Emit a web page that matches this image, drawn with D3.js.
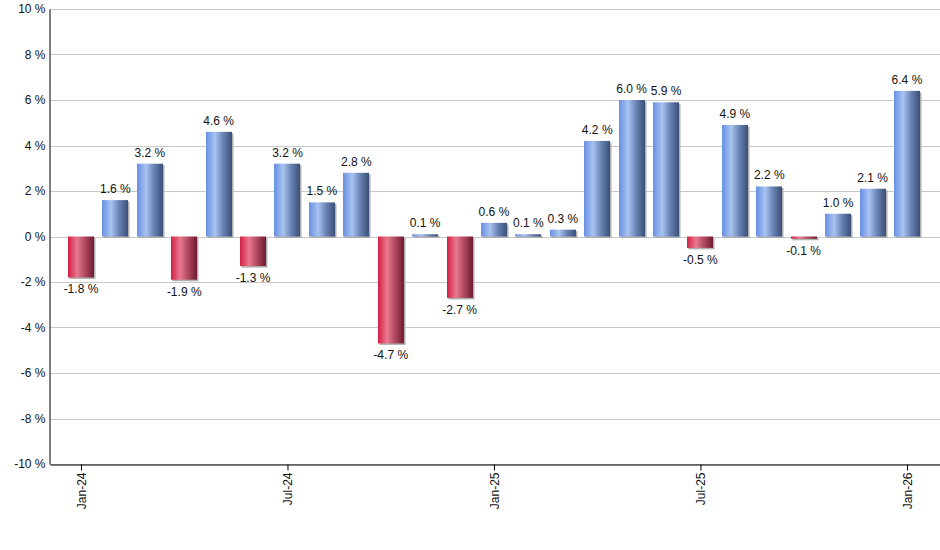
<!DOCTYPE html>
<html>
<head>
<meta charset="utf-8">
<script src="https://cdn.jsdelivr.net/npm/d3@7"></script>
<style>
  body { margin: 0; background: #fff; }
  text { font-family: "Liberation Sans", Arial, sans-serif; }
</style>
</head>
<body>
<svg id="chart" width="940" height="550"></svg>
<script>
// mois de Jan-24 à Jan-26
const months = ["Jan-24","Feb-24","Mar-24","Apr-24","May-24","Jun-24","Jul-24","Aug-24","Sep-24","Oct-24","Nov-24","Dec-24",
                "Jan-25","Feb-25","Mar-25","Apr-25","May-25","Jun-25","Jul-25","Aug-25","Sep-25","Oct-25","Nov-25","Dec-25","Jan-26"];
const values = [-1.8, 1.6, 3.2, -1.9, 4.6, -1.3, 3.2, 1.5, 2.8, -4.7, 0.1, -2.7,
                0.6, 0.1, 0.3, 4.2, 6.0, 5.9, -0.5, 4.9, 2.2, -0.1, 1.0, 2.1, 6.4];
const tickMonths = ["Jan-24", "Jul-24", "Jan-25", "Jul-25", "Jan-26"];
const yTicks = [-10, -8, -6, -4, -2, 0, 2, 4, 6, 8, 10];

const svg = d3.select('#chart');
const margin = { left: 50, right: 940, top: 9, bottom: 464 };

const x = d3.scaleLinear().domain([-0.9, 24.96]).range([margin.left, margin.right]);
const y = d3.scaleLinear().domain([-10, 10]).range([margin.bottom, margin.top]);
const barW = 26;

// dégradés
const defs = svg.append('defs');
function grad(id, stops) {
    defs.append('linearGradient')
        .attr('id', id)
        .attr('x1', '0%').attr('x2', '100%').attr('y1', '0%').attr('y2', '0%')
        .selectAll('stop')
        .data(stops)
        .enter().append('stop')
        .attr('offset', d => d[0])
        .attr('stop-color', d => d[1]);
}
grad('blue', [["0%", "#6790e2"], ["35%", "#a9c3f2"], ["65%", "#6a84b4"], ["100%", "#3a4f78"]]);
grad('red', [["0%", "#d41f45"], ["35%", "#e8798f"], ["65%", "#b04a60"], ["100%", "#6e1a30"]]);

// grille
svg.append('g')
    .selectAll('line')
    .data(yTicks)
    .enter().append('line')
    .attr('x1', margin.left).attr('x2', margin.right)
    .attr('y1', d => Math.round(y(d)) + 0.5).attr('y2', d => Math.round(y(d)) + 0.5)
    .attr('stroke', '#c8c8c8')
    .attr('stroke-width', 1);

// ombres
svg.append('g')
    .selectAll('rect')
    .data(values)
    .enter().append('rect')
    .attr('x', (d, i) => Math.round(x(i) - barW / 2) + 1.5)
    .attr('y', d => Math.min(y(d), y(0)) + 1.5)
    .attr('width', barW)
    .attr('height', d => Math.abs(y(d) - y(0)))
    .attr('fill', '#b0b0b0');

// barres
svg.append('g')
    .selectAll('rect')
    .data(values)
    .enter().append('rect')
    .attr('x', (d, i) => Math.round(x(i) - barW / 2))
    .attr('y', d => Math.min(y(d), y(0)))
    .attr('width', barW)
    .attr('height', d => Math.abs(y(d) - y(0)))
    .attr('fill', d => d < 0 ? 'url(#red)' : 'url(#blue)');

// étiquettes de valeurs
svg.append('g')
    .selectAll('text')
    .data(values)
    .enter().append('text')
    .attr('x', (d, i) => x(i))
    .attr('y', d => d < 0 ? y(d) + 16 : y(d) - 7)
    .attr('text-anchor', 'middle')
    .attr('font-size', 12)
    .attr('fill', '#111')
    .text(d => d.toFixed(1) + ' %');

// axe Y
const yAxis = svg.append('g')
    .attr('transform', `translate(${margin.left - 0.5},0)`)
    .call(d3.axisLeft(y).tickValues(yTicks).tickSize(0).tickPadding(4).tickFormat(d => d + ' %'));
yAxis.select('.domain').attr('stroke', '#000');
yAxis.selectAll('text').attr('font-size', 12).attr('fill', '#111')
    .attr('font-family', '"Liberation Sans", Arial, sans-serif');

// axe X
const xAxis = svg.append('g')
    .attr('transform', `translate(0,${margin.bottom + 0.5})`)
    .call(d3.axisBottom(x)
        .tickValues(tickMonths.map(m => months.indexOf(m)))
        .tickSize(6).tickSizeOuter(0)
        .tickFormat(i => months[i]));
xAxis.select('.domain').attr('stroke', '#000');
xAxis.selectAll('.tick line').attr('stroke', '#000');
xAxis.selectAll('text')
    .attr('font-size', 12).attr('fill', '#111')
    .attr('font-family', '"Liberation Sans", Arial, sans-serif')
    .attr('transform', 'rotate(-90)')
    .attr('text-anchor', 'end')
    .attr('x', -8).attr('y', 0).attr('dy', '0.35em');
</script>
</body>
</html>
